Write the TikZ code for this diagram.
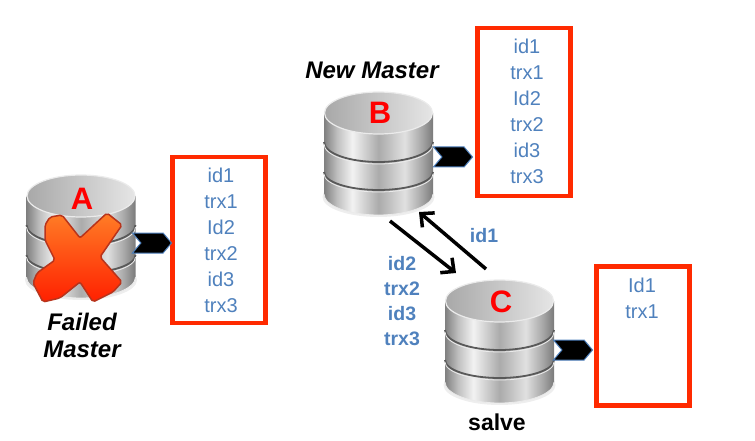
\documentclass[tikz,border=0pt]{standalone}
\usepackage{fontspec}
\setmainfont{Liberation Sans}
\usetikzlibrary{shapes.symbols,arrows.meta,shadows}
\definecolor{idblue}{HTML}{4F81BD}
\definecolor{boxred}{HTML}{FF2A00}
\definecolor{crossedge}{HTML}{B8341C}
\pgfdeclarehorizontalshading{dbbody}{100bp}{
	color(0bp)=(black!50); color(25bp)=(black!50); color(31bp)=(black!25);
	color(38bp)=(black!5); color(50bp)=(black!33); color(62bp)=(black!12);
	color(70bp)=(black!35); color(75bp)=(black!52); color(100bp)=(black!52)}
\pgfdeclarehorizontalshading{dbtop}{100bp}{
	color(0bp)=(black!34); color(25bp)=(black!34); color(50bp)=(black!22);
	color(75bp)=(black!10); color(100bp)=(black!10)}
\tikzset
{
	recordbox/.style = {draw=boxred, line width=4.5pt, fill=white, minimum width=93pt, drop shadow={shadow xshift=1pt, shadow yshift=-1.5pt, opacity=0.3}},
	recordtext/.style = {text=idblue, align=center, font=\fontsize{20}{26}\selectfont},
	synctext/.style = {text=idblue, align=center, font=\fontsize{19.5}{25.2}\selectfont\bfseries},
	dbletter/.style = {text=red, inner sep=0pt, font=\fontsize{31}{31}\selectfont\bfseries},
	rolename/.style = {align=center, font=\fontsize{24}{27}\selectfont\bfseries\itshape},
	feed/.style = {signal, signal to=east, signal from=west, signal pointer angle=100, draw=idblue, fill=black, line width=1pt, minimum width=39pt, minimum height=20pt, inner sep=0pt},
	syncarrow/.style = {draw=black, line width=3.5pt, -{Straight Barb[length=10pt,width=19pt,line width=3.5pt]}},
	dbstack/.pic = {
		\fill[black!45, opacity=0.15] (0,84) ellipse [x radius=56pt, y radius=20pt];
		\shade[shading=dbbody] (-54.5,0) -- (-54.5,81) arc [start angle=180, end angle=360, x radius=54.5pt, y radius=21pt] -- (54.5,0) -- cycle;
		\draw[black!65, line width=1.8pt] (-54.5,29) arc [start angle=180, end angle=360, x radius=54.5pt, y radius=20pt];
		\draw[black!65, line width=1.8pt] (-54.5,59) arc [start angle=180, end angle=360, x radius=54.5pt, y radius=18pt];
		\draw[black!8, line width=0.8pt] (-54.5,31) arc [start angle=180, end angle=360, x radius=54.5pt, y radius=20pt];
		\draw[black!8, line width=0.8pt] (-54.5,61) arc [start angle=180, end angle=360, x radius=54.5pt, y radius=18pt];
		\draw[black!8, line width=0.8pt] (-54.5,81) arc [start angle=180, end angle=360, x radius=54.5pt, y radius=21pt];
		\shade[shading=dbtop, draw=black!8, line width=1.2pt] (0,0) ellipse [x radius=54pt, y radius=21pt];
	}
}
\begin{document}
\begin{tikzpicture}[x=1pt, y=-1pt]
	\useasboundingbox (0,0) rectangle (755,441);
	% databases
	\pic at (81,196) {dbstack};
	\pic at (378.5,113) {dbstack};
	\pic at (499.5,301) {dbstack};
	% record boxes
	\node[recordbox, minimum height=166pt] (boxA) at (219,240) {};
	\node[recordbox, minimum height=168pt] (boxB) at (524,112) {};
	\node[recordbox, minimum height=139pt] (boxC) at (643,336) {};
	\node[recordtext] (recA) at (221,240) {id1\\trx1\\Id2\\trx2\\id3\\trx3};
	\node[recordtext] (recB) at (527,111) {id1\\trx1\\Id2\\trx2\\id3\\trx3};
	\node[recordtext] (recC) at (642,298) {Id1\\trx1};
	% feeds
	\node[feed] (feedA) at (152,243) {};
	\node[feed] (feedB) at (453,157) {};
	\node[feed] (feedC) at (573,350) {};
	% failed mark
	\draw[crossedge, line width=1.5pt, rounded corners=2pt, top color=orange!80!red!85!white, bottom color=orange!25!red] (45,225) -- (50,217) -- (62,215) -- (80,238) -- (107,213) -- (122,225) -- (100,257) -- (122,282) -- (113,292) -- (93,302) -- (80,282) -- (60,298) -- (43,302) -- (33,283) -- (37,273) -- (55,260) -- (45,240) -- cycle;
	\node[dbletter] (letterA) at (82,199) {A};
	\node[dbletter] (letterB) at (380,113) {B};
	\node[dbletter] (letterC) at (501,302) {C};
	\node[rolename] (roleA) at (82,335) {Failed\\Master};
	\node[rolename] (roleB) at (372,70) {New Master};
	\node[font=\fontsize{23}{27}\selectfont\bfseries] (roleC) at (497,422) {salve};
	% replication
	\coordinate (sendB) at (390,221);
	\coordinate (recvC) at (456,273);
	\coordinate (sendC) at (486,269);
	\coordinate (recvB) at (419,212);
	\draw[syncarrow] (sendB) -- (recvC);
	\draw[syncarrow] (sendC) -- (recvB);
	\node[synctext] (syncUp) at (484,236) {id1};
	\node[synctext] (syncDown) at (402,301) {id2\\trx2\\id3\\trx3};
\end{tikzpicture}
\end{document}
